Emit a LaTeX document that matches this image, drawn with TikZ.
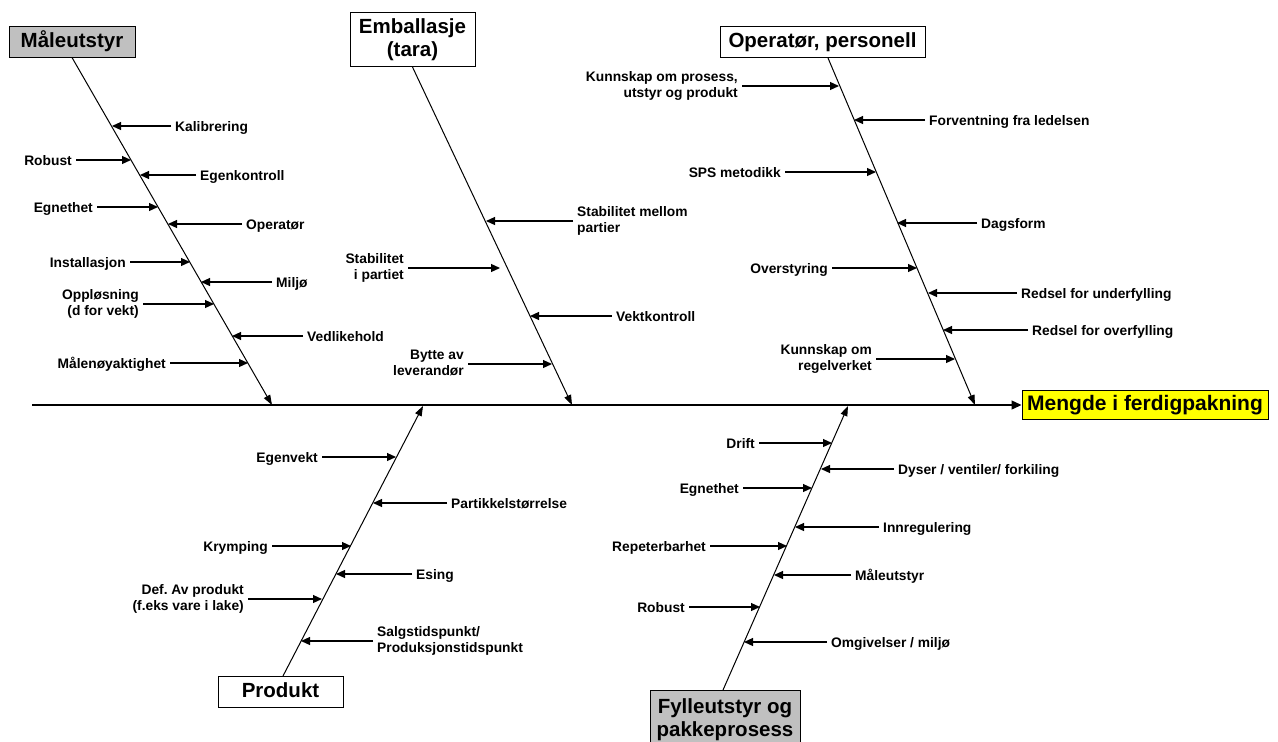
\documentclass[tikz,border=0pt]{standalone}
\usepackage{fontspec}
\setmainfont{Liberation Sans}
\usetikzlibrary{arrows.meta}
\newcommand\lblfont{\fontsize{13.8}{16.5}\selectfont\bfseries}
\newcommand\headfont{\fontsize{20.5}{23}\selectfont\bfseries}
\definecolor{boxgray}{HTML}{C0C0C0}
\definecolor{outyellow}{HTML}{FFFF00}
\tikzset{
  bone/.style={line width=1pt, -{Triangle[length=10pt,width=7pt]}},
  spine/.style={line width=1.4pt, -{Triangle[length=10pt,width=9pt]}},
  arr/.style={line width=1.2pt, -{Triangle[length=9pt,width=8pt]}},
  lblbase/.style={inner xsep=4pt, inner ysep=0pt, font=\lblfont},
  lblR/.style={lblbase, anchor=west, text height=10pt, text depth=0pt},
  lblL/.style={lblbase, anchor=east, text height=10pt, text depth=0pt},
  lblRR/.style={lblbase, anchor=west, align=left, text depth=3pt},
  lblLL/.style={lblbase, anchor=east, align=right, text depth=3pt},
  headbase/.style={draw=black, line width=1pt, font=\headfont, inner xsep=4pt,
    inner ysep=6pt, align=center},
  head/.style={headbase, text height=15pt, text depth=4pt},
  headtwo/.style={headbase},
}
% #1 style, #2 name, #3 line start x, #4 y, #5 bone x, #6 text
\newcommand\fishR[6][lblR]{%
  \coordinate (#2b) at (#5,#4);
  \node[#1] (#2) at (#3,#4) {#6};
  \draw[arr] (#2.west) -- (#2b);}
\newcommand\fishL[6][lblL]{%
  \coordinate (#2b) at (#5,#4);
  \node[#1] (#2) at (#3,#4) {#6};
  \draw[arr] (#2.east) -- (#2b);}
\begin{document}
\begin{tikzpicture}[x=1pt,y=-1pt]
\useasboundingbox (0,0) rectangle (1278,742);

% heads
\node[head, fill=boxgray, minimum width=126pt] (mal) at (72,41.5) {Måleutstyr};
\node[headtwo, fill=white, minimum width=125pt, minimum height=54pt] (emb) at (412.5,39.5) {Emballasje\\(tara)};
\node[head, fill=white, minimum width=205pt] (op) at (822.5,42) {Operatør, personell};
\node[head, fill=outyellow, minimum width=246pt, font=\fontsize{21}{23}\selectfont\bfseries, inner ysep=5pt] (out) at (1145,405) {Mengde i ferdigpakning};
\node[head, fill=white, minimum width=125pt] (prod) at (280.5,692) {Produkt};
\node[headtwo, fill=boxgray, minimum width=150pt, anchor=north, inner ysep=8pt] (fyl) at (725,690) {Fylleutstyr og\\pakkeprosess};

% spine
\coordinate (s0) at (32,405);
\draw[spine] (s0) -- (out.west);

% bones
\coordinate (e1) at (272,405);
\coordinate (e2) at (572,405);
\coordinate (e3) at (975,405);
\coordinate (e4) at (423,406);
\coordinate (e5) at (848,406);
\draw[bone] (mal.south) -- (e1);
\draw[bone] (emb.south) -- (e2);
\draw[bone] ([xshift=5.5pt]op.south) -- (e3);
\draw[bone] ([xshift=2.5pt]prod.north) -- (e4);
\draw[bone] ([xshift=-2pt]fyl.north) -- (e5);

% Maaleutstyr causes
\fishR{ma1}{171}{126}{112}{Kalibrering}
\fishL{ma2}{76}{160}{131}{Robust}
\fishR{ma3}{196}{175}{140}{Egenkontroll}
\fishL{ma4}{97}{207}{158}{Egnethet}
\fishR{ma5}{242}{224}{168}{Operatør}
\fishL{ma6}{130}{262}{190}{Installasjon}
\fishR{ma7}{272}{282}{201}{Miljø}
\fishL[lblLL]{ma8}{143}{304}{214}{Oppløsning\\(d for vekt)}
\fishR{ma9}{303}{336}{232}{Vedlikehold}
\fishL{ma10}{170}{363}{248}{Målenøyaktighet}

% Emballasje causes
\fishR[lblRR]{em1}{573}{221}{486}{Stabilitet mellom\\partier}
\fishL[lblLL]{em2}{408}{268}{500}{Stabilitet\\i partiet}
\fishR{em3}{612}{316}{530}{Vektkontroll}
\fishL[lblLL]{em4}{468}{364}{552}{Bytte av\\leverandør}

% Operatoer causes
\fishL[lblLL]{op1}{742}{86}{839}{Kunnskap om prosess,\\utstyr og produkt}
\fishR{op2}{925}{120}{854}{Forventning fra ledelsen}
\fishL{op3}{785}{172}{876}{SPS metodikk}
\fishR{op4}{977}{223}{897}{Dagsform}
\fishL{op5}{832}{268}{917}{Overstyring}
\fishR{op6}{1017}{293}{928}{Redsel for underfylling}
\fishR{op7}{1028}{330}{943}{Redsel for overfylling}
\fishL[lblLL]{op8}{876}{359}{955}{Kunnskap om\\regelverket}

% Produkt causes
\fishL{pr1}{322}{457}{396}{Egenvekt}
\fishR{pr2}{447}{503}{373}{Partikkelstørrelse}
\fishL{pr3}{272}{546}{351}{Krymping}
\fishR{pr4}{412}{574}{336}{Esing}
\fishL[lblLL]{pr5}{248}{599}{322}{Def.\ Av produkt\\(f.eks vare i lake)}
\fishR[lblRR]{pr6}{373}{641}{301}{Salgstidspunkt/\\Produksjonstidspunkt}

% Fylleutstyr causes
\fishL{fy1}{759}{443}{832}{Drift}
\fishR{fy2}{894}{469}{821}{Dyser / ventiler/ forkiling}
\fishL{fy3}{743}{488}{812}{Egnethet}
\fishR{fy4}{879}{527}{795}{Innregulering}
\fishL{fy5}{710}{546}{787}{Repeterbarhet}
\fishR{fy6}{851}{575}{774}{Måleutstyr}
\fishL{fy7}{689}{607}{760}{Robust}
\fishR{fy8}{827}{642}{744}{Omgivelser / miljø}
\end{tikzpicture}
\end{document}
